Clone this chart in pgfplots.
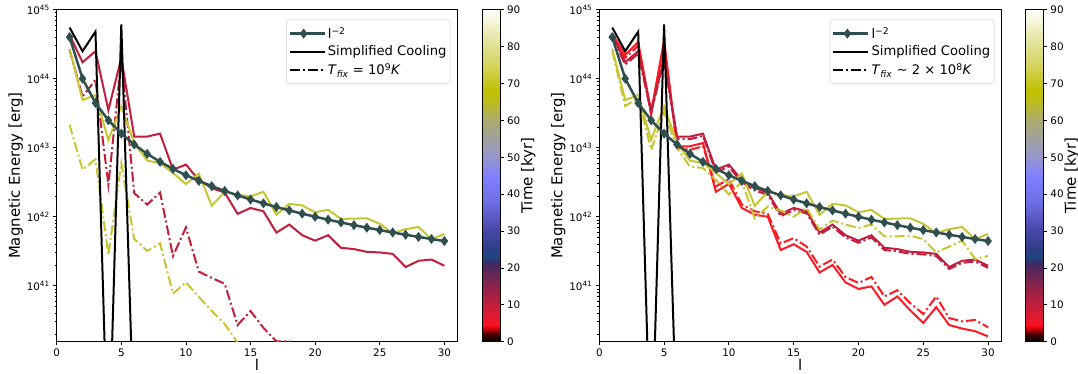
\documentclass[border=0pt]{standalone}
\usepackage{fontspec}
\setmainfont{DejaVu Sans}
\usepackage{pgfplots}
\usepackage{pgfplotstable}
\pgfplotsset{compat=1.18}

\definecolor{slate}{HTML}{2F4F4F}
\definecolor{crim}{RGB}{192,30,60}
\definecolor{oliv}{RGB}{200,198,48}
\definecolor{bred}{RGB}{255,25,35}

% l, l^-2, crimson solid (t~12), olive solid (t~70), crimson dash-dot, olive dash-dot
\pgfplotstableread{
l  lm    C       O        CD      OD
1  4.0e44 4.3e44 2.7e44  2.6e44  2.15e43
2  1.0e44 1.73e44 4.9e43 5.5e43  4.8e42
3  4.444e43 2.5e44 5.8e43 9.6e43 6.8e42
4  2.5e43 3.5e43 1.3e43  2.9e42  2.8e41
5  1.6e43 2.0e44 4.0e43  1.9e44  6.0e42
6  1.111e43 1.45e43 1.17e43 2.2e42 4.75e41
7  8.163e42 1.45e43 6.5e42 1.5e42 3.2e41
8  6.25e42 1.6e43 6.0e42  2.24e42 4.1e41
9  4.938e42 4.8e42 4.3e42 2.7e41  7.7e40
10 4.0e42 5.7e42 2.97e42  7.0e41  1.12e41
11 3.306e42 3.4e42 4.2e42 1.6e41  6.9e40
12 2.778e42 2.6e42 1.44e42 1.3e41 4.3e40
13 2.367e42 2.24e42 2.3e42 1.07e41 2.8e40
14 2.041e42 1.1e42 2.08e42 2.7e40 1.5e40
15 1.778e42 1.34e42 1.97e42 4.3e40 8e39
16 1.563e42 1.2e42 2.3e42 2.45e40 nan
17 1.384e42 5.9e41 1.07e42 1.57e40 nan
18 1.235e42 7.7e41 1.54e42 1.57e40 nan
19 1.108e42 5.4e41 1.46e42 5e39 nan
20 1.0e42 4.5e41 1.16e42 3e39 nan
21 9.07e41 5.4e41 1.26e42 nan nan
22 8.264e41 3.55e41 9.3e41 nan nan
23 7.561e41 3.4e41 9.4e41 nan nan
24 6.944e41 3.1e41 9.5e41 nan nan
25 6.4e41 3.04e41 7.9e41 nan nan
26 5.917e41 2.9e41 5.8e41 nan nan
27 5.487e41 1.87e41 6.6e41 nan nan
28 5.102e41 2.3e41 7.1e41 nan nan
29 4.756e41 2.4e41 4.75e41 nan nan
30 4.444e41 1.95e41 5.6e41 nan nan
}\lefttab

% l, bright red solid (t~5), bright red dash-dot, crimson dash-dot, olive dash-dot
\pgfplotstableread{
l  R       RD      CD      OD
1  4.5e44  4.2e44  4.0e44  2.5e44
2  2.2e44  2.0e44  1.6e44  4.0e43
3  3.4e44  3.0e44  2.3e44  5.3e43
4  3.3e43  3.0e43  3.2e43  9.3e42
5  3.6e44  3.3e44  1.85e44 3.3e43
6  1.05e43 1.0e43  1.35e43 9.9e42
7  1.05e43 9.3e42  1.33e43 5.3e42
8  1.17e43 1.05e43 1.48e43 5.1e42
9  2.3e42  2.75e42 4.4e42  3.4e42
10 3.0e42  3.5e42  5.3e42  2.1e42
11 1.34e42 1.5e42  3.15e42 3.2e42
12 1.07e42 1.2e42  2.4e42  9.5e41
13 1.0e42  1.1e42  2.08e42 1.4e42
14 3.3e41  4.1e41  1.02e42 1.24e42
15 4.0e41  4.9e41  1.25e42 1.0e42
16 3.1e41  3.7e41  1.12e42 1.34e42
17 1.56e41 1.9e41  5.5e41  6.5e41
18 2.0e41  2.4e41  7.2e41  8.8e41
19 1.12e41 1.34e41 5.0e41  7.7e41
20 9.0e40  1.1e41  4.2e41  6.9e41
21 9.8e40  1.34e41 5.0e41  7.7e41
22 5.3e40  7.0e40  3.3e41  5.2e41
23 7.0e40  8.6e40  3.15e41 5.2e41
24 4.4e40  5.6e40  2.9e41  5.3e41
25 2.9e40  3.9e40  2.85e41 4.75e41
26 4.9e40  7.0e40  2.7e41  3.05e41
27 2.7e40  3.4e40  1.75e41 3.7e41
28 2.4e40  3.05e40 2.15e41 4.5e41
29 2.2e40  3.2e40  2.25e41 2.45e41
30 1.85e40 2.5e40  1.82e41 2.7e41
}\righttab

% colour stops of the time colour bar
\pgfplotstableread{
x y
0 0
1 0
0 2
1 2
0 3.5
1 3.5
0 4.5
1 4.5
0 6
1 6
0 10
1 10
0 15
1 15
0 20
1 20
0 22
1 22
0 22.4
1 22.4
0 25
1 25
0 30
1 30
0 38
1 38
0 45
1 45
0 50
1 50
0 55
1 55
0 60
1 60
0 65
1 65
0 68
1 68
0 75
1 75
0 82
1 82
0 90
1 90
}\cbtab

\pgfplotsset{
  colormap={timemap}{
    rgb255(0pt)=(0,0,0)
    rgb255(2pt)=(70,0,0)
    rgb255(3.5pt)=(200,0,10)
    rgb255(4.5pt)=(255,15,25)
    rgb255(6pt)=(232,25,45)
    rgb255(10pt)=(195,30,60)
    rgb255(15pt)=(140,35,75)
    rgb255(20pt)=(80,40,92)
    rgb255(22pt)=(55,45,105)
    rgb255(22.4pt)=(25,70,125)
    rgb255(25pt)=(45,62,135)
    rgb255(30pt)=(70,70,165)
    rgb255(38pt)=(110,110,230)
    rgb255(45pt)=(128,128,255)
    rgb255(50pt)=(150,150,205)
    rgb255(55pt)=(160,160,158)
    rgb255(60pt)=(172,172,110)
    rgb255(65pt)=(188,188,30)
    rgb255(68pt)=(192,192,0)
    rgb255(75pt)=(212,212,95)
    rgb255(82pt)=(230,230,165)
    rgb255(90pt)=(255,255,250)
  },
}
\tikzset{
  dd/.style={dash pattern=on 10bp off 3bp on 2bp off 3bp},
  lmstyle/.style={slate, line width=2.5bp, mark=diamond*, mark size=3bp, mark options={solid, fill=slate}},
}

\begin{document}
\begin{tikzpicture}
\useasboundingbox (0,0) rectangle (1078bp,374bp);

% ---------- left panel ----------
\begin{axis}[at={(56.7bp,32.3bp)}, anchor=south west,
    scale only axis, width=400.6bp, height=332bp,
    ymode=log,
    xmin=0, xmax=31, ymin=1.55e40, ymax=1e45,
    xtick={0,5,10,15,20,25,30},
    ytick={1e41,1e42,1e43,1e44,1e45},
    yticklabels={10\textsuperscript{41},10\textsuperscript{42},10\textsuperscript{43},10\textsuperscript{44},10\textsuperscript{45}},
    minor ytick={2e40,3e40,4e40,5e40,6e40,7e40,8e40,9e40,2e41,3e41,4e41,5e41,6e41,7e41,8e41,9e41,2e42,3e42,4e42,5e42,6e42,7e42,8e42,9e42,2e43,3e43,4e43,5e43,6e43,7e43,8e43,9e43,2e44,3e44,4e44,5e44,6e44,7e44,8e44,9e44},
    tick pos=left, tick align=outside,
    major tick length=3.5bp, minor tick length=2bp,
    tick style={black, line width=0.8bp},
    axis line style={line width=0.8bp},
    tick label style={font=\fontsize{10.4}{12}\selectfont},
    label style={font=\fontsize{15}{18}\selectfont},
    /pgf/number format/assume math mode=true,
    xlabel={l}, ylabel={Magnetic Energy [erg]},
    xlabel style={yshift=4bp}, ylabel shift=-3bp,
    legend style={at={(0.9835,0.97)}, anchor=north east, draw=black!20, rounded corners=2.5bp,
      font=\fontsize{13.2}{15.5}\selectfont, inner xsep=2bp, inner ysep=5.5bp, row sep=2bp},
    legend cell align=left,
    legend image code/.code={\path (0bp,0bp) -- (35bp,0bp);\draw[mark repeat=2,mark phase=2] plot coordinates {(0bp,0bp) (14bp,0bp) (28bp,0bp)};},
  ]
\addlegendimage{lmstyle}
\addlegendentry{l\textsuperscript{−2}}
\addlegendimage{black, line width=2bp}
\addlegendentry{Simplified Cooling}
\addlegendimage{black, line width=2bp, dd}
\addlegendentry{\textit{T}\textsubscript{\textit{fix}} = 10\textsuperscript{9}\textit{K}}

\addplot[crim, line width=2bp, forget plot] table[x=l, y=C] {\lefttab};
\addplot[crim, line width=2bp, dd, forget plot] table[x=l, y=CD] {\lefttab};
\addplot[oliv, line width=2bp, forget plot] table[x=l, y=O] {\lefttab};
\addplot[oliv, line width=2bp, dd, forget plot] table[x=l, y=OD] {\lefttab};
\addplot[black, line width=2bp, forget plot] coordinates {(1,5.5e44) (2,2.5e44) (3,4.8e44) (4,2e38) (5,6.1e44) (6,5.5e38)};
\addplot[lmstyle, forget plot] table[x=l, y=lm] {\lefttab};
\end{axis}

\begin{axis}[at={(482.3bp,32.3bp)}, anchor=south west,
    scale only axis, width=17.7bp, height=332bp,
    xmin=0, xmax=1, ymin=0, ymax=90,
    xtick=\empty, ytick={0,10,20,30,40,50,60,70,80,90},
    ytick pos=right, yticklabel pos=right,
    tick align=outside, major tick length=3.5bp,
    tick style={black, line width=0.8bp},
    axis line style={line width=0.8bp},
    tick label style={font=\fontsize{10.4}{12}\selectfont},
    /pgf/number format/assume math mode=true,
    ylabel={Time [kyr]}, ylabel near ticks,
    ylabel style={font=\fontsize{15}{18}\selectfont, yshift=6bp},
    colormap name=timemap, axis on top,
  ]
\addplot[surf, shader=interp, mesh/cols=2, point meta=\thisrow{y}] table[x=x, y=y] {\cbtab};
\end{axis}

% ---------- right panel ----------
\begin{axis}[at={(599.3bp,32.3bp)}, anchor=south west,
    scale only axis, width=401.7bp, height=332bp,
    ymode=log,
    xmin=0, xmax=31, ymin=1.55e40, ymax=1e45,
    xtick={0,5,10,15,20,25,30},
    ytick={1e41,1e42,1e43,1e44,1e45},
    yticklabels={10\textsuperscript{41},10\textsuperscript{42},10\textsuperscript{43},10\textsuperscript{44},10\textsuperscript{45}},
    minor ytick={2e40,3e40,4e40,5e40,6e40,7e40,8e40,9e40,2e41,3e41,4e41,5e41,6e41,7e41,8e41,9e41,2e42,3e42,4e42,5e42,6e42,7e42,8e42,9e42,2e43,3e43,4e43,5e43,6e43,7e43,8e43,9e43,2e44,3e44,4e44,5e44,6e44,7e44,8e44,9e44},
    tick pos=left, tick align=outside,
    major tick length=3.5bp, minor tick length=2bp,
    tick style={black, line width=0.8bp},
    axis line style={line width=0.8bp},
    tick label style={font=\fontsize{10.4}{12}\selectfont},
    label style={font=\fontsize{15}{18}\selectfont},
    /pgf/number format/assume math mode=true,
    xlabel={l}, ylabel={Magnetic Energy [erg]},
    xlabel style={yshift=4bp}, ylabel shift=-3bp,
    legend style={at={(0.9835,0.97)}, anchor=north east, draw=black!20, rounded corners=2.5bp,
      font=\fontsize{13.2}{15.5}\selectfont, inner xsep=2bp, inner ysep=5.5bp, row sep=2bp},
    legend cell align=left,
    legend image code/.code={\path (0bp,0bp) -- (35bp,0bp);\draw[mark repeat=2,mark phase=2] plot coordinates {(0bp,0bp) (14bp,0bp) (28bp,0bp)};},
  ]
\addlegendimage{lmstyle}
\addlegendentry{l\textsuperscript{−2}}
\addlegendimage{black, line width=2bp}
\addlegendentry{Simplified Cooling}
\addlegendimage{black, line width=2bp, dd}
\addlegendentry{\textit{T}\textsubscript{\textit{fix}} ∼ 2 × 10\textsuperscript{8}\textit{K}}

\addplot[bred, line width=2bp, forget plot] table[x=l, y=R] {\righttab};
\addplot[bred, line width=2bp, dd, forget plot] table[x=l, y=RD] {\righttab};
\addplot[crim, line width=2bp, forget plot] table[x=l, y=C] {\lefttab};
\addplot[crim, line width=2bp, dd, forget plot] table[x=l, y=CD] {\righttab};
\addplot[oliv, line width=2bp, forget plot] table[x=l, y=O] {\lefttab};
\addplot[oliv, line width=2bp, dd, forget plot] table[x=l, y=OD] {\righttab};
\addplot[black, line width=2bp, forget plot] coordinates {(1,5.5e44) (2,2.5e44) (3,4.8e44) (4,2e38) (5,6.1e44) (6,5.5e38)};
\addplot[lmstyle, forget plot] table[x=l, y=lm] {\lefttab};
\end{axis}

\begin{axis}[at={(1025.7bp,32.3bp)}, anchor=south west,
    scale only axis, width=17.7bp, height=332bp,
    xmin=0, xmax=1, ymin=0, ymax=90,
    xtick=\empty, ytick={0,10,20,30,40,50,60,70,80,90},
    ytick pos=right, yticklabel pos=right,
    tick align=outside, major tick length=3.5bp,
    tick style={black, line width=0.8bp},
    axis line style={line width=0.8bp},
    tick label style={font=\fontsize{10.4}{12}\selectfont},
    /pgf/number format/assume math mode=true,
    ylabel={Time [kyr]}, ylabel near ticks,
    ylabel style={font=\fontsize{15}{18}\selectfont, yshift=6bp},
    colormap name=timemap, axis on top,
  ]
\addplot[surf, shader=interp, mesh/cols=2, point meta=\thisrow{y}] table[x=x, y=y] {\cbtab};
\end{axis}
\end{tikzpicture}
\end{document}
